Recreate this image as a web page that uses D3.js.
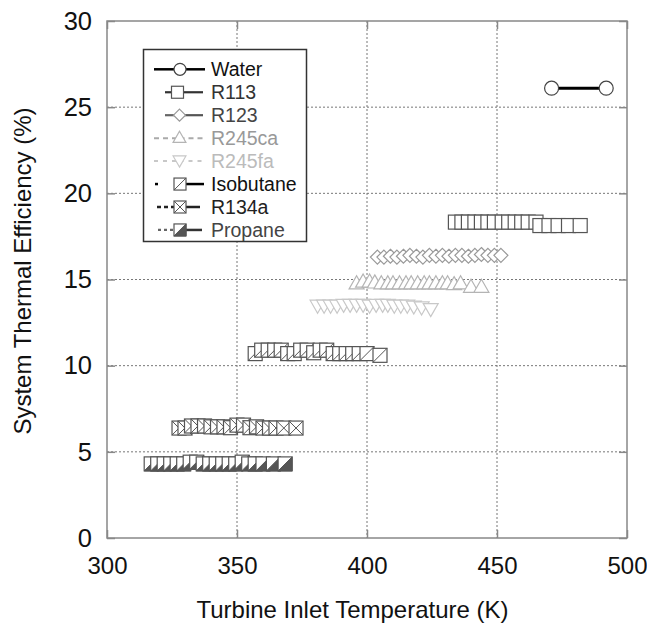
<!DOCTYPE html>
<html><head><meta charset="utf-8">
<script src="https://cdn.jsdelivr.net/npm/d3@7/dist/d3.min.js"></script>
<style>body{margin:0;background:#fff}svg{display:block}text{font-family:Arial,"Liberation Sans",sans-serif}</style>
</head><body>
<svg id="chart" width="647" height="629"></svg>
<script>
// ---- data ----
const xTicks = [300, 350, 400, 450, 500];
const yTicks = [0, 5, 10, 15, 20, 25, 30];
const seriesNames = ["Water", "R113", "R123", "R245ca", "R245fa", "Isobutane", "R134a", "Propane"];

const waterX = [471, 492];
const waterY = [26.1, 26.1];

const r113X = [434, 436.5, 439, 441.5, 444, 446.5, 449, 452, 454.5, 457, 459.5, 462, 465, 466.5, 470, 473.5, 477.5, 482];
const r113Y = [18.33, 18.33, 18.33, 18.33, 18.33, 18.33, 18.33, 18.33, 18.33, 18.33, 18.33, 18.33, 18.33, 18.13, 18.13, 18.13, 18.13, 18.13];

const r123X = [404, 406.5, 409, 411.5, 414, 416.5, 419, 421.5, 424, 426.5, 429, 431.5, 434, 436.5, 439, 441.5, 444, 446.5, 449, 451.5];
const r123Y = [16.3, 16.3, 16.35, 16.3, 16.35, 16.4, 16.35, 16.3, 16.4, 16.35, 16.4, 16.35, 16.4, 16.4, 16.35, 16.4, 16.45, 16.4, 16.4, 16.4];

const r245caX = [396, 398.5, 401, 403, 405.5, 408, 410, 412.5, 415, 417, 419.5, 422, 424, 426.5, 429, 431, 433.5, 436, 440, 444];
const r245caY = [14.75, 14.85, 14.85, 14.8, 14.75, 14.75, 14.75, 14.75, 14.75, 14.75, 14.75, 14.75, 14.75, 14.75, 14.75, 14.75, 14.7, 14.75, 14.55, 14.55];

const r245faX = [381, 383.5, 386, 388.5, 391, 393.5, 396, 398.5, 401, 403.5, 406, 408, 410.5, 413, 415.5, 418, 421, 424.5];
const r245faY = [13.45, 13.45, 13.45, 13.45, 13.5, 13.5, 13.5, 13.5, 13.45, 13.5, 13.5, 13.5, 13.45, 13.45, 13.45, 13.4, 13.35, 13.25];

const isoX = [357, 359.5, 362, 364.5, 367, 369.5, 372, 374.5, 377, 379.5, 382, 384.5, 387, 389.5, 392, 394.5, 397, 400, 405];
const isoY = [10.7, 10.9, 10.9, 10.9, 10.9, 10.7, 10.7, 10.9, 10.9, 10.75, 10.9, 10.9, 10.7, 10.7, 10.7, 10.7, 10.7, 10.7, 10.6];

const r134aX = [327.7, 330, 332.5, 335, 337.5, 340, 342.5, 345, 347.5, 350, 352.5, 355, 357.5, 360, 362.5, 365, 368, 372.7];
const r134aY = [6.38, 6.38, 6.5, 6.5, 6.5, 6.45, 6.45, 6.45, 6.4, 6.55, 6.55, 6.4, 6.45, 6.38, 6.38, 6.38, 6.38, 6.38];

const propX = [317, 319.5, 322, 324.5, 327, 329.5, 332, 334.5, 337, 339.5, 342, 344.5, 347, 349.5, 352, 354.5, 357, 360, 364, 368.5];
const propY = [4.3, 4.3, 4.3, 4.3, 4.3, 4.3, 4.4, 4.4, 4.3, 4.3, 4.3, 4.3, 4.3, 4.3, 4.4, 4.3, 4.3, 4.3, 4.3, 4.3];

// ---- chart ----
const svg = d3.select("#chart");
const x = d3.scaleLinear().domain([300, 500]).range([107, 627]);
const y = d3.scaleLinear().domain([0, 30]).range([538, 21]);
const frameCol = "#888";

// gridlines
const grid = svg.append("g");
grid.selectAll("line.gx").data(xTicks.slice(1, -1)).join("line")
  .attr("x1", d => x(d)).attr("x2", d => x(d)).attr("y1", y(30)).attr("y2", y(0))
  .attr("stroke", "#777").attr("stroke-width", 1).attr("stroke-dasharray", "2,2");
grid.selectAll("line.gy").data(yTicks.slice(1, -1)).join("line")
  .attr("y1", d => y(d)).attr("y2", d => y(d)).attr("x1", x(300)).attr("x2", x(500))
  .attr("stroke", "#777").attr("stroke-width", 1).attr("stroke-dasharray", "2,2");

// axes with inner ticks
const axB = d3.axisBottom(x).tickValues(xTicks).tickSize(-8).tickPadding(19).tickFormat(d3.format("d"));
const axT = d3.axisTop(x).tickValues(xTicks).tickSize(-8).tickFormat("");
const axL = d3.axisLeft(y).tickValues(yTicks).tickSize(-8).tickPadding(15).tickFormat(d3.format("d"));
const axR = d3.axisRight(y).tickValues(yTicks).tickSize(-8).tickFormat("");
function styleAx(g, fs) {
  g.select(".domain").remove();
  g.selectAll(".tick line").attr("stroke", frameCol).attr("stroke-width", 1.5);
  g.selectAll(".tick text").attr("fill", "#111").style("font-size", fs + "px").style("font-family", "Arial, 'Liberation Sans', sans-serif");
}
svg.append("g").attr("transform", `translate(0,${y(0)})`).call(axB).call(styleAx, 24);
svg.append("g").attr("transform", `translate(0,${y(30)})`).call(axT).call(styleAx, 24);
svg.append("g").attr("transform", `translate(${x(300)},0)`).call(axL).call(styleAx, 25.5);
svg.append("g").attr("transform", `translate(${x(500)},0)`).call(axR).call(styleAx, 24);

// frame
svg.append("rect").attr("x", x(300)).attr("y", y(30)).attr("width", x(500) - x(300)).attr("height", y(0) - y(30))
  .attr("fill", "none").attr("stroke", frameCol).attr("stroke-width", 1.5);

// axis titles
svg.append("text").attr("x", 352.5).attr("y", 618).attr("text-anchor", "middle")
  .style("font-size", "24px").attr("fill", "#111").text("Turbine Inlet Temperature (K)");
svg.append("text").attr("transform", `translate(31,271) rotate(-90)`).attr("text-anchor", "middle")
  .style("font-size", "24px").attr("fill", "#111").text("System Thermal Efficiency (%)");

// marker drawers (local shape around 0,0)
function markerFn(S) {
  return {
    circle: (g, st) => g.append("circle").attr("r", S).attr("fill", "#fff").attr("stroke", st.stroke).attr("stroke-width", 1.2),
    square: (g, st) => g.append("rect").attr("x", -S).attr("y", -S).attr("width", 2 * S).attr("height", 2 * S).attr("fill", "#fff").attr("stroke", st.stroke).attr("stroke-width", 1.2),
    diamond: (g, st) => g.append("path").attr("d", `M0,${-S}L${S},0L0,${S}L${-S},0Z`).attr("fill", "#fff").attr("stroke", st.stroke).attr("stroke-width", 1.2),
    triUp: (g, st) => g.append("path").attr("d", `M0,${-S * 1.15}L${S * 1.07},${S * 0.72}L${-S * 1.07},${S * 0.72}Z`).attr("fill", "#fff").attr("stroke", st.stroke).attr("stroke-width", 1.2),
    triDown: (g, st) => g.append("path").attr("d", `M0,${S}L${S * 1.07},${-S * 0.86}L${-S * 1.07},${-S * 0.86}Z`).attr("fill", "#fff").attr("stroke", st.stroke).attr("stroke-width", 1.2),
    sqSlash: (g, st) => {
      g.append("rect").attr("x", -S).attr("y", -S).attr("width", 2 * S).attr("height", 2 * S).attr("fill", "#fff").attr("stroke", st.stroke).attr("stroke-width", 1.2);
      g.append("path").attr("d", `M${-S},${S}L${S},${-S}`).attr("stroke", st.stroke).attr("stroke-width", 1);
    },
    sqX: (g, st) => {
      g.append("rect").attr("x", -S).attr("y", -S).attr("width", 2 * S).attr("height", 2 * S).attr("fill", "#fff").attr("stroke", st.stroke).attr("stroke-width", 1.2);
      g.append("path").attr("d", `M${-S},${S}L${S},${-S}M${-S},${-S}L${S},${S}`).attr("stroke", st.stroke).attr("stroke-width", 1);
    },
    sqHalf: (g, st) => {
      g.append("rect").attr("x", -S).attr("y", -S).attr("width", 2 * S).attr("height", 2 * S).attr("fill", "#fff").attr("stroke", st.stroke).attr("stroke-width", 1.2);
      g.append("path").attr("d", `M${-S},${S}L${S},${-S}L${S},${S}Z`).attr("fill", st.fill).attr("stroke", st.stroke).attr("stroke-width", 1);
    }
  };
}
const markers = markerFn(7);
const legMarkers = markerFn(6);

const series = [
  { name: "Water", xs: waterX, ys: waterY, m: "circle", stroke: "#444", line: true },
  { name: "R113", xs: r113X, ys: r113Y, m: "square", stroke: "#555" },
  { name: "R123", xs: r123X, ys: r123Y, m: "diamond", stroke: "#999" },
  { name: "R245ca", xs: r245caX, ys: r245caY, m: "triUp", stroke: "#b4b4b4" },
  { name: "R245fa", xs: r245faX, ys: r245faY, m: "triDown", stroke: "#c8c8c8" },
  { name: "Isobutane", xs: isoX, ys: isoY, m: "sqSlash", stroke: "#555" },
  { name: "R134a", xs: r134aX, ys: r134aY, m: "sqX", stroke: "#555" },
  { name: "Propane", xs: propX, ys: propY, m: "sqHalf", stroke: "#555", fill: "#555" }
];

const plot = svg.append("g");
series.forEach(s => {
  const pts = s.xs.map((v, i) => [v, s.ys[i]]);
  if (s.line) {
    plot.append("path").attr("d", d3.line().x(d => x(d[0])).y(d => y(d[1]))(pts))
      .attr("fill", "none").attr("stroke", "#000").attr("stroke-width", 3);
  }
  pts.forEach(p => {
    const g = plot.append("g").attr("transform", `translate(${x(p[0])},${y(p[1])})`);
    markers[s.m](g, s);
  });
});

// legend
const lg = svg.append("g");
lg.append("rect").attr("x", 143.5).attr("y", 49.5).attr("width", 163).attr("height", 192)
  .attr("fill", "#fff").attr("stroke", "#333").attr("stroke-width", 1.5);
const legendStyle = [
  { l: { x1: 154, col: "#000", w: 2.5, dash: null }, r: { col: "#000", w: 2.5, x2: 205 }, mx: 180, tc: "#111" },
  { l: { x1: 165, col: "#333", w: 2.2, dash: null }, r: { col: "#333", w: 2.2, x2: 203 }, mx: 177.5, tc: "#333" },
  { l: { x1: 165, col: "#666", w: 2.2, dash: null }, r: { col: "#555", w: 2.2, x2: 203 }, mx: 179.5, tc: "#444" },
  { l: { x1: 154, col: "#aaa", w: 2, dash: "5,4" }, r: { col: "#aaa", w: 2, dash: "5,4", x2: 205 }, mx: 179.5, tc: "#999" },
  { l: { x1: 154, col: "#c8c8c8", w: 2, dash: "4,5" }, r: { col: "#c8c8c8", w: 2, dash: "4,5", x2: 205 }, mx: 179.5, tc: "#bbb" },
  { l: { x1: 155, col: "#000", w: 2.5, dash: "3,30" }, r: { col: "#000", w: 2.5, x2: 204 }, mx: 180, tc: "#111" },
  { l: { x1: 157, col: "#222", w: 2.5, dash: "4,3" }, r: { col: "#222", w: 2.5, x2: 200 }, mx: 180, tc: "#222" },
  { l: { x1: 158, col: "#666", w: 2.2, dash: "3,3" }, r: { col: "#333", w: 2.5, x2: 202 }, mx: 180, tc: "#444" }
];
series.forEach((s, i) => {
  const cy = 69.3 + i * 22.95;
  const st = legendStyle[i];
  const L = lg.append("line").attr("x1", st.l.x1).attr("x2", st.mx).attr("y1", cy).attr("y2", cy)
    .attr("stroke", st.l.col).attr("stroke-width", st.l.w);
  if (st.l.dash) L.attr("stroke-dasharray", st.l.dash);
  const R = lg.append("line").attr("x1", st.mx).attr("x2", st.r.x2).attr("y1", cy).attr("y2", cy)
    .attr("stroke", st.r.col).attr("stroke-width", st.r.w);
  if (st.r.dash) R.attr("stroke-dasharray", st.r.dash);
  const g = lg.append("g").attr("transform", `translate(${st.mx},${cy})`);
  legMarkers[s.m](g, s);
  lg.append("text").attr("x", 211).attr("y", cy + 7).style("font-size", "19.5px").attr("fill", st.tc).text(seriesNames[i]);
});
</script>
</body></html>
